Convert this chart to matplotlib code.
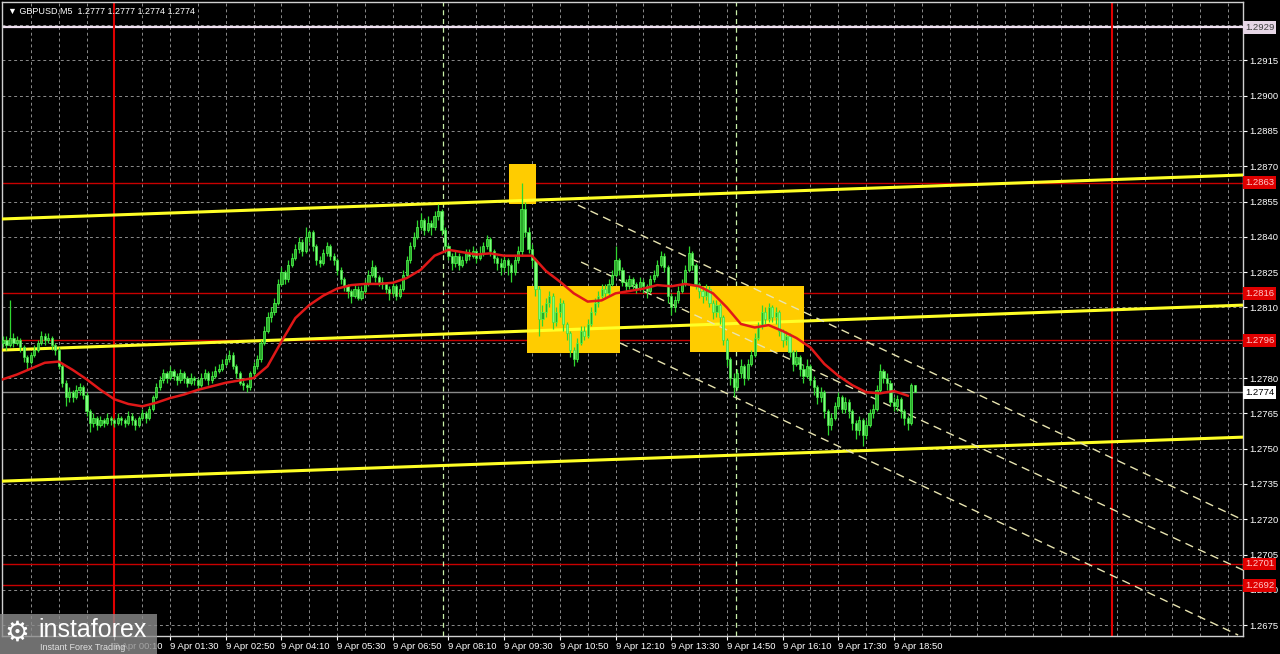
import numpy as np
import matplotlib
matplotlib.use("Agg")
import matplotlib.pyplot as plt
import matplotlib.transforms as mtransforms
from matplotlib.patches import Rectangle

plt.rcParams["font.family"] = ["Liberation Sans", "DejaVu Sans"]

# GBPUSD M5 mumlari, 1.2700 uzerindeki pip olarak (95 -> 1.2795)
opens = [95, 96, 94, 97, 95, 96, 93, 89, 87, 90, 92, 95, 98, 96, 97, 94, 92, 85, 78, 72,
         74, 72, 75, 76, 73, 66, 61, 63, 60, 62, 61, 63, 62, 61, 63, 62, 61, 64, 62, 60,
         63, 65, 63, 67, 72, 76, 79, 82, 80, 83, 81, 79, 82, 80, 78, 80, 79, 77, 80, 82,
         79, 81, 83, 84, 86, 88, 90, 85, 82, 78, 77, 76, 82, 85, 88, 95, 100, 106, 108, 112,
         120, 125, 122, 128, 131, 135, 138, 134, 140, 142, 136, 130, 129, 133, 136, 132, 130, 126, 122, 119,
         117, 115, 118, 114, 117, 120, 124, 127, 123, 121, 120, 118, 116, 119, 115, 118, 124, 130, 136, 140,
         144, 147, 143, 146, 144, 149, 151, 143, 136, 132, 129, 132, 128, 130, 133, 132, 134, 131, 133, 136,
         139, 134, 131, 129, 127, 130, 128, 125, 130, 134, 152, 142, 135, 130, 118, 105, 108, 112, 115, 104,
         108, 112, 103, 99, 92, 88, 95, 100, 98, 103, 108, 112, 115, 118, 116, 120, 124, 130, 126, 121,
         119, 122, 120, 118, 121, 119, 117, 122, 124, 128, 132, 127, 115, 110, 113, 117, 120, 126, 133, 128,
         120, 117, 115, 118, 112, 108, 111, 106, 96, 88, 80, 76, 82, 85, 80, 86, 90, 97, 102, 108,
         105, 110, 106, 108, 100, 96, 98, 91, 86, 89, 84, 81, 85, 79, 76, 72, 74, 66, 60, 63,
         68, 72, 67, 70, 66, 61, 58, 62, 56, 60, 65, 67, 75, 83, 80, 78, 70, 68, 71, 66,
         63, 61, 77]
highs = [98, 98, 113, 99, 98, 97, 94, 90, 91, 94, 96, 100, 99, 99, 98, 95, 93, 86, 79, 76,
         75, 77, 78, 77, 74, 67, 65, 64, 64, 63, 65, 64, 63, 65, 64, 63, 66, 65, 63, 64,
         67, 66, 68, 73, 78, 81, 84, 83, 85, 84, 82, 84, 83, 81, 82, 81, 80, 82, 84, 83,
         83, 85, 86, 88, 90, 92, 91, 86, 83, 80, 78, 83, 87, 90, 96, 102, 108, 110, 114, 122,
         127, 126, 130, 133, 137, 140, 139, 144, 143, 143, 137, 132, 135, 138, 137, 133, 131, 127, 123, 120,
         118, 120, 119, 119, 122, 126, 130, 128, 124, 123, 121, 119, 121, 120, 120, 126, 132, 138, 142, 147,
         150, 148, 149, 147, 151, 154, 152, 144, 137, 133, 134, 133, 132, 135, 135, 136, 135, 136, 138, 141,
         140, 135, 132, 131, 132, 131, 129, 132, 136, 163, 155, 144, 137, 131, 119, 111, 114, 117, 116, 110,
         114, 113, 104, 100, 93, 97, 102, 102, 105, 110, 114, 117, 120, 120, 122, 126, 136, 131, 127, 122,
         124, 123, 121, 123, 122, 120, 124, 126, 130, 134, 133, 128, 116, 115, 119, 122, 128, 136, 134, 129,
         121, 119, 120, 119, 113, 113, 112, 107, 97, 89, 82, 84, 88, 86, 88, 92, 99, 104, 111, 110,
         112, 111, 110, 109, 101, 100, 99, 92, 92, 90, 86, 88, 86, 81, 77, 76, 75, 67, 65, 70,
         74, 73, 72, 71, 67, 62, 64, 63, 62, 67, 69, 77, 86, 84, 82, 79, 72, 73, 72, 67,
         64, 78, 77]
lows = [93, 92, 93, 93, 94, 91, 87, 84, 86, 89, 91, 94, 94, 95, 92, 90, 84, 76, 68, 70,
        70, 71, 73, 71, 64, 57, 59, 58, 59, 59, 60, 60, 59, 60, 60, 59, 60, 60, 58, 59,
        62, 61, 62, 66, 71, 75, 78, 78, 79, 79, 77, 78, 78, 76, 77, 77, 75, 76, 79, 77,
        78, 80, 82, 83, 85, 87, 84, 80, 77, 75, 74, 75, 81, 84, 87, 94, 99, 104, 107, 111,
        119, 120, 121, 127, 130, 133, 132, 133, 138, 134, 128, 127, 128, 132, 130, 128, 124, 120, 117, 114,
        112, 114, 113, 113, 116, 119, 123, 121, 119, 118, 116, 113, 115, 113, 114, 117, 123, 129, 135, 139,
        143, 141, 142, 141, 143, 147, 141, 133, 130, 126, 127, 126, 127, 129, 130, 131, 129, 130, 132, 135,
        132, 129, 126, 124, 125, 124, 121, 124, 129, 132, 140, 133, 127, 115, 98, 102, 106, 110, 101, 102,
        106, 100, 96, 89, 85, 87, 94, 96, 97, 102, 107, 110, 114, 114, 115, 119, 123, 124, 119, 117,
        118, 118, 116, 117, 116, 114, 116, 121, 123, 127, 125, 112, 107, 108, 112, 116, 119, 125, 126, 118,
        114, 112, 113, 110, 105, 106, 103, 94, 85, 77, 72, 75, 80, 77, 79, 85, 89, 96, 101, 103,
        104, 104, 103, 98, 93, 94, 89, 83, 85, 81, 78, 80, 77, 73, 69, 70, 63, 56, 58, 62,
        67, 65, 65, 63, 58, 54, 56, 51, 54, 59, 63, 66, 74, 78, 75, 68, 66, 66, 63, 60,
        58, 60, 74]
closes = [96, 94, 97, 95, 96, 93, 89, 87, 90, 92, 95, 98, 96, 97, 94, 92, 85, 78, 72, 74,
          72, 75, 76, 73, 66, 61, 63, 60, 62, 61, 63, 62, 61, 63, 62, 61, 64, 62, 60, 63,
          65, 63, 67, 72, 76, 79, 82, 80, 83, 81, 79, 82, 80, 78, 80, 79, 77, 80, 82, 79,
          81, 83, 84, 86, 88, 90, 85, 82, 78, 77, 76, 82, 85, 88, 95, 100, 106, 108, 112, 120,
          125, 122, 128, 131, 135, 138, 134, 140, 142, 136, 130, 129, 133, 136, 132, 130, 126, 122, 119, 117,
          115, 118, 114, 117, 120, 124, 127, 123, 121, 120, 118, 116, 119, 115, 118, 124, 130, 136, 140, 144,
          147, 143, 146, 144, 149, 151, 143, 136, 132, 129, 132, 128, 130, 133, 132, 134, 131, 133, 136, 139,
          134, 131, 129, 127, 130, 128, 125, 130, 134, 152, 142, 135, 130, 118, 105, 108, 112, 115, 104, 108,
          112, 103, 99, 92, 88, 95, 100, 98, 103, 108, 112, 115, 118, 116, 120, 124, 130, 126, 121, 119,
          122, 120, 118, 121, 119, 117, 122, 124, 128, 132, 127, 115, 110, 113, 117, 120, 126, 133, 128, 120,
          117, 115, 118, 112, 108, 111, 106, 96, 88, 80, 76, 82, 85, 80, 86, 90, 97, 102, 108, 105,
          110, 106, 108, 100, 96, 98, 91, 86, 89, 84, 81, 85, 79, 76, 72, 74, 66, 60, 63, 68,
          72, 67, 70, 66, 61, 58, 62, 56, 60, 65, 67, 75, 83, 80, 78, 70, 68, 71, 66, 63,
          61, 77, 74]

# hareketli ortalama, her 4 mumda bir okundu
ma_values = [79.5, 81.5, 84, 86.5, 87, 83.5, 79.5, 75, 71, 69, 68, 69.5, 71.5, 73, 75, 76.5,
             78, 79, 80, 85, 95.5, 105.5, 111, 115, 118, 119.5, 120, 120, 120.5, 122.5, 126, 132,
             134.5, 133.5, 132.5, 133, 132, 132, 132, 125.5, 121, 116, 112.5, 113, 116, 117, 118, 119.5,
             119, 120, 119, 116, 110, 103, 101.5, 102.5, 100, 97, 93, 86, 81, 77, 74, 73.5, 74.5, 72.5]

time_labels = ["9 Apr 00:10", "9 Apr 01:30", "9 Apr 02:50", "9 Apr 04:10", "9 Apr 05:30",
               "9 Apr 06:50", "9 Apr 08:10", "9 Apr 09:30", "9 Apr 10:50", "9 Apr 12:10",
               "9 Apr 13:30", "9 Apr 14:50", "9 Apr 16:10", "9 Apr 17:30", "9 Apr 18:50"]

# kanal cizgileri (sol ve sag kenardaki fiyat)
yellow_left = [1.28476, 1.27919, 1.27362]
yellow_right = [1.28663, 1.28110, 1.27549]
# asagi yonlu kesikli kanal
dash_x0 = [165.2, 166.1, 177.3]
dash_x1 = [356.3, 356.3, 354.9]
dash_p0 = [1.28535, 1.28293, 1.27949]
dash_p1 = [1.27197, 1.26984, 1.26708]
# sari kutular
box_x0 = [145.4, 150.6, 197.4]
box_x1 = [153.2, 177.3, 230.2]
box_p0 = [1.28539, 1.27906, 1.27910]
box_p1 = [1.28709, 1.28191, 1.28191]

red_levels = [1.2863, 1.2816, 1.2796, 1.2701, 1.2692]
top_level = 1.2929
last_price = 1.2774
day_lines = [32, 318.7]
session_lines = [126.4, 210.6]
# kutularin altinda kalan fiyat etiketleri
hidden_ticks = [1.2795, 1.2930]

o = 1.27 + np.array(opens) / 10000
h = 1.27 + np.array(highs) / 10000
l = 1.27 + np.array(lows) / 10000
c = 1.27 + np.array(closes) / 10000
x = np.arange(len(closes))

fig = plt.figure(figsize=(12.8, 6.54), dpi=100, facecolor="black")
ax = fig.add_axes([2 / 1280, 18 / 654, 1241 / 1280, 634 / 654], facecolor="black")
xmin, xmax = -0.29, 356.3
ax.set_xlim(xmin, xmax)
ax.set_ylim(1.26704, 1.29398)

# grid
yticks = np.round(np.arange(1.2675, 1.29301, 0.0015), 4)
ax.set_yticks(yticks)
ax.set_yticklabels(["" if t in hidden_ticks else f"{t:.4f}" for t in yticks])
ax.yaxis.tick_right()
label_bars = np.arange(32, 257, 16)
ax.set_xticks(label_bars)
ax.set_xticklabels(time_labels, ha="left")
ax.set_xticks(np.arange(8, 356, 8), minor=True)
ax.tick_params(axis="both", which="major", colors="white", labelsize=6.8, length=3, width=0.8, pad=1.5)
ax.tick_params(axis="x", which="minor", length=0)
for sp in ax.spines.values():
    sp.set_color("#d0d0d0")
    sp.set_linewidth(1)
ax.grid(True, which="both", axis="x", color="#8c8c8c", ls=(0, (3, 3)), lw=0.7, zorder=0)
ax.grid(True, which="major", axis="y", color="#8c8c8c", ls=(0, (3, 3)), lw=0.7, zorder=0)
ax.set_axisbelow(True)

# yatay seviyeler
for lv in red_levels:
    ax.axhline(lv, color="#c80000", lw=1, zorder=1)
ax.axhline(top_level, color="#efe0f0", lw=1.6, zorder=1)
ax.axhline(last_price, color="#8a8a8a", lw=1, zorder=1)

# dikey cizgiler
for d in day_lines:
    ax.axvline(d, color="#e00000", lw=1.5, zorder=1)
for s in session_lines:
    ax.axvline(s, color="#c8f0a8", lw=0.9, ls=(0, (4, 3)), zorder=1)

# sari kutular
for i in range(len(box_x0)):
    ax.add_patch(Rectangle((box_x0[i], box_p0[i]), box_x1[i] - box_x0[i], box_p1[i] - box_p0[i],
                           facecolor="#ffcc00", edgecolor="none", zorder=2))

# kanal
for i in range(3):
    ax.plot([xmin, xmax], [yellow_left[i], yellow_right[i]], color="#ffff26", lw=2.2, zorder=3,
            solid_capstyle="butt")
for i in range(3):
    ax.plot([dash_x0[i], dash_x1[i]], [dash_p0[i], dash_p1[i]], color="#e8e4b0", lw=1,
            ls=(0, (6, 4)), zorder=3)

# mumlar
up = c >= o
body_lo = np.minimum(o, c)
body_h = np.maximum(np.abs(c - o), 0.00003)
ax.vlines(x, l, h, color="#30d830", lw=0.9, zorder=4)
ax.bar(x[up], body_h[up], bottom=body_lo[up], width=0.62, color="#2aa82a",
       edgecolor="#50ff50", linewidth=0.5, zorder=5)
ax.bar(x[~up], body_h[~up], bottom=body_lo[~up], width=0.62, color="#80ff80",
       edgecolor="#40e040", linewidth=0.5, zorder=5)

# MA
ma_x = np.arange(0, len(closes), 4)
ax.plot(ma_x, 1.27 + np.array(ma_values) / 10000, color="#e01818", lw=1.8, zorder=6)

# sag eksendeki fiyat etiketleri
tr = mtransforms.blended_transform_factory(ax.transAxes, ax.transData)
for lv in red_levels:
    ax.text(1.0015, lv, f"{lv:.4f}", transform=tr, fontsize=6.8, color="#ffc8c8", va="center",
            ha="left", clip_on=False, zorder=20,
            bbox=dict(boxstyle="square,pad=0.2", fc="#e00000", ec="none"))
ax.text(1.0015, top_level, f"{top_level:.4f}", transform=tr, fontsize=6.8, color="#404040",
        va="center", ha="left", clip_on=False, zorder=20,
        bbox=dict(boxstyle="square,pad=0.2", fc="#e6d6e6", ec="none"))
ax.text(1.0015, last_price, f"{last_price:.4f}", transform=tr, fontsize=6.8, color="black",
        va="center", ha="left", clip_on=False, zorder=20,
        bbox=dict(boxstyle="square,pad=0.2", fc="white", ec="none"))

ax.text(0.005, 0.993, "\u25bc GBPUSD,M5  1.2777 1.2777 1.2774 1.2774", transform=ax.transAxes,
        color="white", fontsize=6.5, va="top", ha="left", zorder=20,
        family=["Liberation Sans", "DejaVu Sans"])

# logo
fig.add_artist(Rectangle((0, 0), 157 / 1280, 40 / 654, transform=fig.transFigure,
                         facecolor="#8c8c8c", alpha=0.8, edgecolor="none", zorder=30))
fig.text(4 / 1280, 1 - 633 / 654, "\u2699", fontsize=20, color="white", va="center", zorder=31,
         family="DejaVu Sans")
fig.text(38 / 1280, 1 - 630 / 654, "instaforex", fontsize=18, color="white", va="center", zorder=31)
fig.text(40 / 1280, 1 - 647 / 654, "Instant Forex Trading", fontsize=6.5, color="#e0e0e0",
         va="center", zorder=31)

fig.savefig("out.png", dpi=100, facecolor="black")
